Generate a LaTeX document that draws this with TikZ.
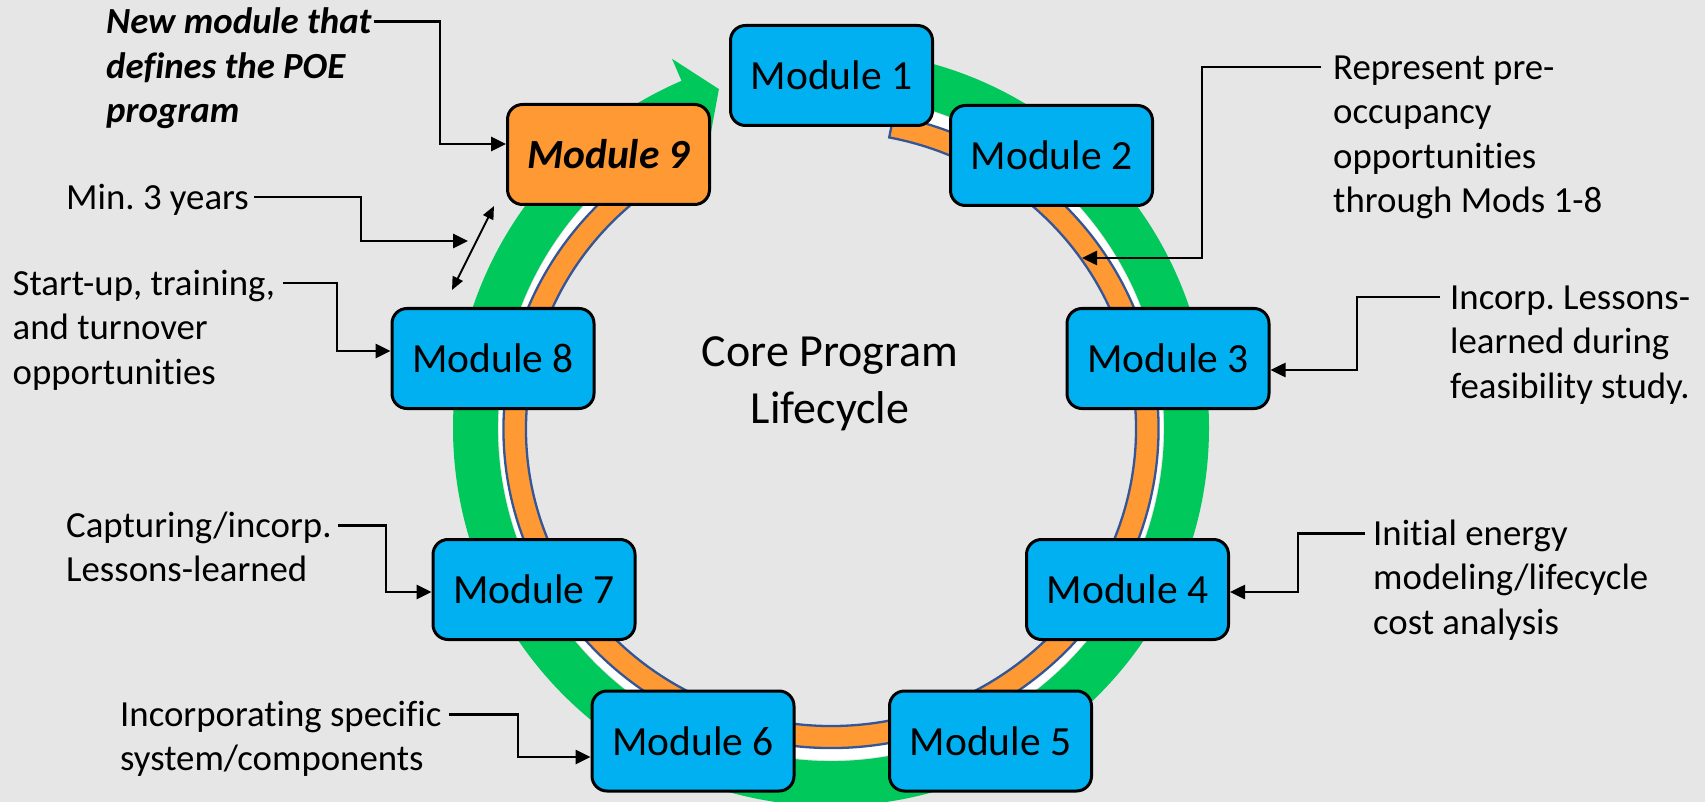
\documentclass[tikz,border=0pt]{standalone}
\usepackage{fontspec}
\setmainfont{Carlito}[Ligatures={NoCommon,NoContextual}]
\usetikzlibrary{arrows.meta,calc}
\definecolor{bggray}{RGB}{231,230,230}
\definecolor{modblue}{RGB}{0,176,240}
\definecolor{modorange}{RGB}{255,153,51}
\definecolor{ringgreen}{RGB}{0,200,90}
\definecolor{ringline}{RGB}{52,86,150}
\frenchspacing
\begin{document}
\begin{tikzpicture}[x=1pt,y=-1pt,
  modbox/.style={draw=black,line width=3pt,rounded corners=15pt,fill=modblue,
    minimum width=202pt,minimum height=100pt,inner sep=0pt,
    font=\fontsize{41.5}{50}\selectfont},
  lbl/.style={inner sep=0pt,align=left,font=\fontsize{36.8}{44.5}\selectfont},
  conn/.style={draw=black,line width=2.6pt,-{Triangle[length=15pt,width=14pt]}},
  dbl/.style={draw=black,line width=2pt,
    {Triangle[length=13pt,width=11pt]}-{Triangle[length=13pt,width=11pt]}}]
\useasboundingbox (0,0) rectangle (1705,802);
\fill[bggray] (0,0) rectangle (1705,802);

% ring centres
\coordinate (G) at (831,428);
\coordinate (O) at (831,429);

% green circular arrow
\fill[ringgreen] ($(G)+(-90:378)$) arc[start angle=-90,end angle=246.7,radius=378]
  -- ($(G)+(246.7:402)$) -- ($(G)+(251.7:357)$) -- ($(G)+(246.7:309)$)
  -- ($(G)+(246.7:333)$) arc[start angle=246.7,end angle=-90,radius=333] -- cycle;

% white gap between green and orange
\fill[white] ($(O)+(-79:327.5 and 319)$)
  arc[start angle=-79,end angle=235,x radius=327.5,y radius=319]
  -- ($(G)+(235:332)$) arc[start angle=235,end angle=-79,radius=332] -- cycle;

% orange band
\filldraw[fill=modorange,draw=ringline,line width=2.3pt]
  ($(O)+(-79:327.5 and 319)$)
  arc[start angle=-79,end angle=235,x radius=327.5,y radius=319]
  -- ($(O)+(235:305 and 297)$)
  arc[start angle=235,end angle=-79,x radius=305,y radius=297] -- cycle;

% modules
\node[modbox] (M1) at (831.5,75.5) {Module 1};
\node[modbox] (M2) at (1051.5,155.5) {Module 2};
\node[modbox] (M3) at (1168,358.5) {Module 3};
\node[modbox] (M4) at (1127.5,589.5) {Module 4};
\node[modbox] (M5) at (990.5,741) {Module 5};
\node[modbox] (M6) at (693,741) {Module 6};
\node[modbox] (M7) at (534,589.5) {Module 7};
\node[modbox] (M8) at (493,358.5) {Module 8};
\node[modbox,fill=modorange,font=\fontsize{41.5}{50}\selectfont\bfseries\itshape] (M9) at (608.5,154.5) {Module 9};

% centre text
\node[align=center,font=\fontsize{46}{57}\selectfont] (core) at (830,384) {Core Program\\Lifecycle};

% labels
\node[lbl,anchor=north west,font=\fontsize{36.8}{44.5}\selectfont\bfseries\itshape] (lblA) at (106,2.4)
  {\strut New module that\\defines the POE\\program};
\node[lbl,anchor=north west] (lblB) at (66,177.9) {\strut Min. 3 years};
\node[lbl,anchor=north west] (lblC) at (12.5,263.9) {\strut Start-up, training,\\and turnover\\opportunities};
\node[lbl,anchor=north west] (lblD) at (66,505.9) {\strut Capturing/incorp.\\Lessons-learned};
\node[lbl,anchor=north west] (lblE) at (120,694.9) {\strut Incorporating specific\\system/components};
\node[lbl,anchor=north west] (lblF) at (1333,47.9) {\strut Represent pre-\\occupancy\\opportunities\\through Mods 1-8};
\node[lbl,anchor=north west] (lblG) at (1450,277.9) {\strut Incorp. Lessons-\\learned during\\feasibility study.};
\node[lbl,anchor=north west] (lblH) at (1373,513.9) {\strut Initial energy\\modeling/lifecycle\\cost analysis};

% connector corners and free ends
\coordinate (kA) at (440,144);
\coordinate (kB) at (361,241);
\coordinate (tB) at (468,241);
\coordinate (kC) at (337,351);
\coordinate (kD) at (386,592);
\coordinate (kE) at (518,757);
\coordinate (kF) at (1202,258);
\coordinate (tF) at (1082,258);
\coordinate (kG) at (1357,370);
\coordinate (kH) at (1298,592);
\coordinate (d1) at (494,206);
\coordinate (d2) at (452,290);

\draw[conn] ([xshift=2pt,yshift=-19.3pt]lblA.north east) -| (kA) -- (kA -| M9.west);
\draw[conn] ([xshift=5pt,yshift=-19.3pt]lblB.north east) -| (kB) -- (tB);
\draw[dbl] (d1) -- (d2);
\draw[conn] ([xshift=8pt,yshift=-19.3pt]lblC.north east) -| (kC) -- (kC -| M8.west);
\draw[conn] ([xshift=6pt,yshift=-19.3pt]lblD.north east) -| (kD) -- (kD -| M7.west);
\draw[conn] ([xshift=7pt,yshift=-19.3pt]lblE.north east) -| (kE) -- (kE -| M6.west);
\draw[conn] ([xshift=-12pt,yshift=-19.3pt]lblF.north west) -| (kF) -- (tF);
\draw[conn] ([xshift=-10pt,yshift=-19.3pt]lblG.north west) -| (kG) -- (kG -| M3.east);
\draw[conn] ([xshift=-8pt,yshift=-19.3pt]lblH.north west) -| (kH) -- (kH -| M4.east);
\end{tikzpicture}
\end{document}
